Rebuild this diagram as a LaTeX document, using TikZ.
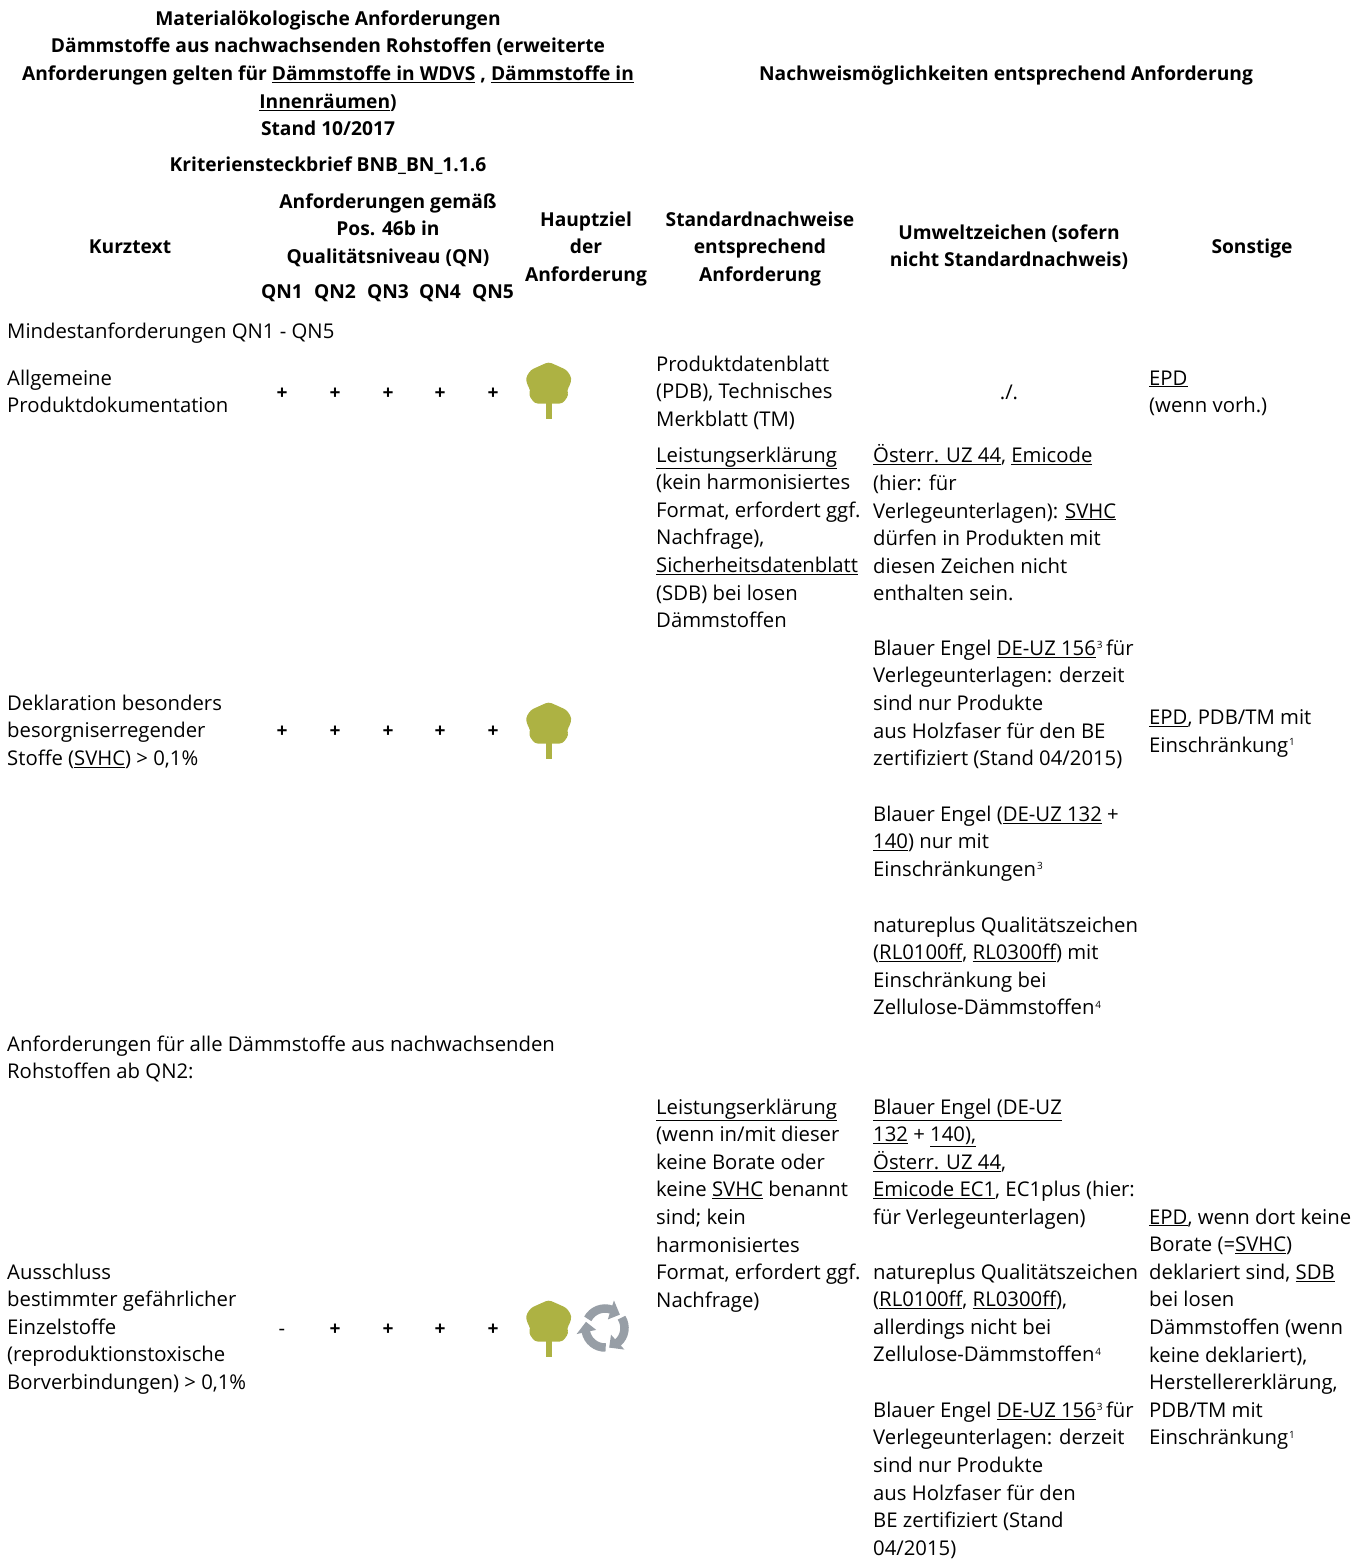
\documentclass[tikz,border=0pt]{standalone}
\usepackage{fontspec}
\setmainfont{Open Sans}
\definecolor{treegreen}{HTML}{ADB243}
\definecolor{recgray}{HTML}{979EA6}
\newcommand{\ul}[1]{\underline{#1}}
\newcommand{\fn}[1]{\kern1pt\raisebox{.62ex}{\fontsize{10}{10}\selectfont #1}}
\tikzset{
  base font/.style={inner sep=0pt,yshift=7.5pt,execute at begin node=\strut},
  single/.style={yshift=4.5pt},
  cell/.style={base font,yshift=1pt,anchor=north west,align=left,font=\fontsize{20.3}{27.6}\selectfont},
  head/.style={base font,anchor=north,align=center,font=\fontsize{19.2}{27.6}\selectfont\bfseries},
  mid/.style={base font,anchor=north,align=center,font=\fontsize{20.3}{27.6}\selectfont},
  pics/tree/.style={code={
    \fill[treegreen] (-3,14) rectangle (3,31);
    \fill[treegreen,rounded corners=3pt] (0,-26) -- (7,-23) -- (18,-18) -- (23,-10) -- (21,-2) -- (18,2) -- (20,7) -- (14,15.5) -- (-14,15.5) -- (-20,7) -- (-18,2) -- (-21,-2) -- (-23,-10) -- (-18,-18) -- (-7,-23) -- cycle;
  }},
  pics/recycle/.style={code={
    \begin{scope}[yscale=-1]
    \foreach \r in {0,-120,-240}{
      \begin{scope}[rotate=\r]
        \draw[recgray,line width=8.5pt] (152:19.5) arc[start angle=152,end angle=70,radius=19.5];
        \fill[recgray] (72:9) -- (72:29) -- (42:20) -- cycle;
      \end{scope}
    }
    \end{scope}
  }}
}
\begin{document}
\begin{tikzpicture}[x=1pt,y=-1pt]
\useasboundingbox (0,0) rectangle (1368,1559);
% headers
\node[head] (title) at (328,18) {Materialökologische Anforderungen\\Dämmstoffe aus nachwachsenden Rohstoffen (erweiterte\\Anforderungen gelten für \ul{Dämmstoffe in WDVS} , \ul{Dämmstoffe in}\\\ul{Innenräumen})\\Stand 10/2017};
\node[head,single] (krit) at (328,164) {Kriteriensteckbrief BNB\_BN\_1.1.6};
\node[head,single] (nach) at (1006,73) {Nachweismöglichkeiten entsprechend Anforderung};
\node[head,single] (kurz) at (130,246) {Kurztext};
\node[head] (anf) at (388,201) {Anforderungen gemäß\\Pos. 46b in\\Qualitätsniveau (QN)};
\node[head,single] (qn1) at (282,291) {QN1};
\node[head,single] (qn2) at (335,291) {QN2};
\node[head,single] (qn3) at (388,291) {QN3};
\node[head,single] (qn4) at (440,291) {QN4};
\node[head,single] (qn5) at (493,291) {QN5};
\node[head] (haupt) at (586,219) {Hauptziel\\der\\Anforderung};
\node[head] (std) at (760,219) {Standardnachweise\\entsprechend\\Anforderung};
\node[head] (umw) at (1009,232) {Umweltzeichen (sofern\\nicht Standardnachweis)};
\node[head,single] (son) at (1252,246) {Sonstige};
% section 1
\node[cell,single] (min) at (7,332) {Mindestanforderungen QN1 - QN5};
\node[cell] (a1) at (7,378) {Allgemeine\\Produktdokumentation};
\foreach \x/\n in {282/1,335/2,388/3,440/4,493/5}{\node[head,single] (pa\n) at (\x,392) {+};}
\pic at (548.7,388) {tree};
\node[cell] (a2) at (656,364) {Produktdatenblatt\\(PDB), Technisches\\Merkblatt (TM)};
\node[mid,single] (a3) at (1009,392) {./.};
\node[cell] (a4) at (1149,379) {\ul{EPD}\\(wenn vorh.)};
% SVHC
\node[cell] (b1) at (656,455) {\ul{Leistungserklärung}\\(kein harmonisiertes\\Format, erfordert ggf.\\Nachfrage),\\\ul{Sicherheitsdatenblatt}\\(SDB) bei losen\\Dämmstoffen};
\node[cell] (b2) at (873,453) {\ul{Österr. UZ 44}, \ul{Emicode}\\(hier: für\\Verlegeunterlagen): \ul{SVHC}\\dürfen in Produkten mit\\diesen Zeichen nicht\\enthalten sein.};
\node[cell] (b3) at (873,648) {Blauer Engel \ul{DE-UZ 156}\fn{3}\,für\\Verlegeunterlagen: derzeit\\sind nur Produkte\\aus Holzfaser für den BE\\zertifiziert (Stand 04/2015)};
\node[cell] (b4) at (873,814) {Blauer Engel (\ul{DE-UZ 132} +\\\ul{140}) nur mit\\Einschränkungen\fn{3}};
\node[cell] (b5) at (873,925) {natureplus Qualitätszeichen\\(\ul{RL0100ff}, \ul{RL0300ff}) mit\\Einschränkung bei\\Zellulose-Dämmstoffen\fn{4}};
\node[cell] (b6) at (7,703) {Deklaration besonders\\besorgniserregender\\Stoffe (\ul{SVHC}) > 0,1\%};
\foreach \x/\n in {282/1,335/2,388/3,440/4,493/5}{\node[head,single] (pb\n) at (\x,730) {+};}
\pic at (548.7,728) {tree};
\node[cell] (b7) at (1149,718) {\ul{EPD}, PDB/TM mit\\Einschränkung\fn{1}};
% section 2
\node[cell] (c0) at (7,1044) {Anforderungen für alle Dämmstoffe aus nachwachsenden\\Rohstoffen ab QN2:};
\node[cell] (c1) at (656,1107) {\ul{Leistungserklärung}\\(wenn in/mit dieser\\keine Borate oder\\keine \ul{SVHC} benannt\\sind; kein\\harmonisiertes\\Format, erfordert ggf.\\Nachfrage)};
\node[cell] (c2) at (873,1107) {\ul{Blauer Engel (DE-UZ}\\\ul{132} + \ul{140),}\\\ul{Österr. UZ 44},\\\ul{Emicode EC1}, EC1plus (hier:\\für Verlegeunterlagen)};
\node[cell] (c3) at (873,1272) {natureplus Qualitätszeichen\\(\ul{RL0100ff}, \ul{RL0300ff}),\\allerdings nicht bei\\Zellulose-Dämmstoffen\fn{4}};
\node[cell] (c4) at (873,1410) {Blauer Engel \ul{DE-UZ 156}\fn{3}\,für\\Verlegeunterlagen: derzeit\\sind nur Produkte\\aus Holzfaser für den\\BE zertifiziert (Stand\\04/2015)};
\node[cell] (c5) at (7,1272) {Ausschluss\\bestimmter gefährlicher\\Einzelstoffe\\(reproduktionstoxische\\Borverbindungen) > 0,1\%};
\node[mid,single] (pc1) at (282,1328) {-};
\foreach \x/\n in {335/2,388/3,440/4,493/5}{\node[head,single] (pc\n) at (\x,1328) {+};}
\pic at (548.7,1326) {tree};
\pic at (605,1328) {recycle};
\node[cell] (c6) at (1149,1217) {\ul{EPD}, wenn dort keine\\Borate (=\ul{SVHC})\\deklariert sind, \ul{SDB}\\bei losen\\Dämmstoffen (wenn\\keine deklariert),\\Herstellererklärung,\\PDB/TM mit\\Einschränkung\fn{1}};
\end{tikzpicture}
\end{document}
